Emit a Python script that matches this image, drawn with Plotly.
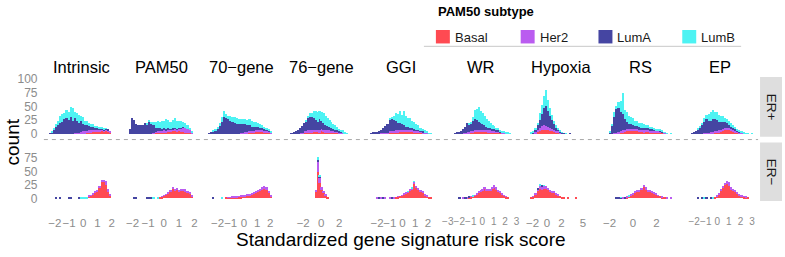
import numpy as np
import plotly.graph_objects as go

# ---------------- data ----------------
SIGNATURES = ["Intrinsic", "PAM50", "70\u2212gene", "76\u2212gene", "GGI", "WR", "Hypoxia", "RS", "EP"]
SUBTYPES = ["Basal", "Her2", "LumA", "LumB"]
COLORS = ["#FF4A52", "#BA5CF0", "#4545A2", "#4DF3F3"]
ROWS = ["ER+", "ER\u2212"]
LEGEND_TITLE = "PAM50 subtype"
NBINS = 30

# histogram bin range (standardized score) per signature
BIN_LO = [-2.42, -2.26, -2.68, -3.44, -2.55, -2.39, -2.36, -2.00, -2.25]
BIN_HI = [1.93, 1.87, 2.15, 3.00, 2.31, 2.66, 6.14, 3.36, 3.09]
# axis ranges and tick labels per signature
AXIS_LO = [-2.77, -2.58, -3.06, -4.22, -3.10, -3.43, -3.39, -2.60, -3.03]
AXIS_HI = [2.56, 2.32, 2.68, 4.22, 2.86, 3.18, 7.16, 3.87, 3.52]
XTICKS = [[-2, -1, 0, 1, 2], [-2, -1, 0, 1, 2], [-2, -1, 0, 1, 2], [-2, 0, 2],
          [-2, -1, 0, 1, 2], [-3, -2, -1, 0, 1, 2, 3], [-2, 0, 2, 5], [-2, 0, 2],
          [-2, -1, 0, 1, 2, 3]]
YTICKS_POS = [0, 25, 50, 75, 100]
YTICKS_NEG = [0, 25, 50, 75]

# counts per bin (ER+)
INTRINSIC_POS = dict(
    Basal=[0]*15 + [1, 1, 1, 2, 2, 3, 3, 4, 4, 4, 5, 4, 5, 4, 3],
    Her2=[0]*12 + [1, 1, 2, 2, 3, 3, 3, 4, 3, 4, 3, 3, 3, 3, 2, 3, 2, 1],
    LumA=[1, 3, 8, 12, 16, 20, 22, 26, 28, 25, 30, 24, 27, 22, 18, 20, 14, 12, 10, 8, 7, 6, 4, 4, 3, 2, 2, 1, 1, 0],
    LumB=[0, 1, 3, 5, 8, 12, 14, 12, 15, 14, 18, 22, 12, 15, 14, 10, 12, 8, 8, 6, 4, 4, 3, 3, 2, 2, 1, 1, 0, 0])
PAM50_POS = dict(
    Basal=[0]*11 + [1, 2, 2, 3, 3, 3, 3, 4, 3, 4, 4, 3, 4, 3, 3, 2, 2, 1, 1],
    Her2=[0]*11 + [1, 1, 2, 2, 2, 3, 3, 3, 4, 4, 5, 5, 6, 7, 8, 8, 7, 5, 2],
    LumA=[8, 28, 25, 18, 16, 15, 16, 20, 17, 22, 18, 14, 8, 6, 5, 4, 4, 3, 3, 2, 2, 2, 1, 1, 1, 1, 0, 0, 0, 0],
    LumB=[0, 0, 0, 0, 0, 0, 0, 0, 1, 2, 3, 5, 10, 13, 12, 15, 13, 17, 15, 13, 15, 17, 14, 12, 13, 10, 9, 7, 4, 1])
G70_POS = dict(
    Basal=[0]*16 + [1, 1, 1, 2, 2, 2, 3, 3, 3, 3, 3, 2, 2, 1],
    Her2=[0]*15 + [1, 1, 2, 2, 3, 3, 3, 4, 4, 4, 4, 3, 3, 2, 1],
    LumA=[1, 2, 4, 6, 10, 14, 22, 30, 28, 26, 24, 22, 20, 18, 17, 16, 15, 14, 12, 10, 8, 7, 6, 5, 4, 3, 2, 2, 1, 1],
    LumB=[0, 0, 1, 2, 3, 5, 8, 12, 8, 6, 8, 8, 10, 10, 9, 10, 10, 9, 10, 11, 10, 9, 8, 7, 6, 5, 4, 3, 2, 1])
G76_POS = dict(
    Basal=[0, 0, 0, 0, 0, 1, 1, 2, 2, 3, 3, 3, 4, 3, 3, 3, 4, 3, 3, 3, 3, 2, 2, 2, 2, 1, 1, 1, 0, 0],
    Her2=[0, 0, 0, 0, 0, 1, 1, 2, 2, 3, 3, 3, 3, 4, 4, 3, 4, 4, 3, 3, 3, 3, 2, 2, 2, 1, 1, 1, 0, 0],
    LumA=[1, 1, 2, 4, 6, 9, 12, 15, 18, 22, 25, 24, 22, 18, 15, 20, 16, 12, 10, 8, 6, 5, 4, 3, 2, 2, 1, 1, 1, 0],
    LumB=[0, 0, 0, 0, 0, 0, 0, 0, 2, 4, 6, 8, 12, 16, 18, 16, 16, 18, 16, 15, 13, 12, 10, 8, 6, 5, 4, 3, 2, 1])
GGI_POS = dict(
    Basal=[0, 0, 0, 0, 0, 0, 1, 1, 1, 2, 2, 2, 3, 3, 3, 3, 3, 3, 3, 3, 3, 3, 2, 2, 2, 1, 1, 1, 0, 0],
    Her2=[0, 0, 0, 0, 0, 1, 1, 1, 1, 2, 2, 3, 3, 3, 4, 4, 4, 4, 4, 4, 4, 3, 3, 3, 2, 2, 1, 1, 0, 0],
    LumA=[1, 2, 2, 3, 4, 6, 8, 12, 16, 22, 24, 20, 18, 14, 12, 10, 8, 6, 5, 4, 3, 3, 2, 2, 1, 1, 1, 0, 0, 0],
    LumB=[0, 0, 0, 0, 0, 0, 0, 0, 0, 1, 2, 8, 14, 16, 22, 18, 26, 20, 16, 18, 14, 12, 10, 8, 6, 5, 3, 2, 1, 1])
WR_POS = dict(
    Basal=[0, 0, 0, 0, 0, 1, 1, 1, 2, 2, 3, 3, 3, 3, 3, 3, 3, 3, 3, 2, 2, 2, 2, 2, 1, 1, 1, 1, 0, 0],
    Her2=[0, 0, 0, 0, 1, 1, 2, 2, 3, 3, 4, 4, 4, 4, 4, 4, 4, 3, 3, 3, 3, 2, 2, 1, 1, 1, 0, 0, 0, 0],
    LumA=[1, 2, 3, 5, 8, 10, 16, 14, 12, 18, 20, 18, 15, 12, 10, 8, 6, 5, 4, 3, 3, 2, 2, 1, 1, 1, 0, 0, 0, 0],
    LumB=[0, 0, 0, 0, 0, 0, 0, 2, 4, 8, 16, 20, 26, 22, 20, 18, 14, 12, 9, 8, 6, 5, 4, 3, 2, 2, 1, 1, 1, 0])
HYPOXIA_POS = dict(
    Basal=[0, 0, 1, 3, 5, 6, 7, 6, 6, 5, 4, 3, 2, 2, 1],
    Her2=[0, 1, 2, 4, 6, 8, 9, 8, 7, 6, 5, 4, 3, 2, 1, 1],
    LumA=[1, 2, 4, 8, 14, 22, 30, 36, 28, 22, 16, 10, 6, 4, 2, 1, 1, 0, 0, 1],
    LumB=[1, 1, 2, 5, 12, 16, 22, 30, 20, 14, 10, 6, 4, 2, 1, 1, 0, 1])
RS_POS = dict(
    Basal=[0, 0, 0, 0, 1, 2, 3, 4, 5, 5, 5, 5, 4, 4, 4, 4, 3, 4, 4, 3, 3, 3, 3, 3, 2, 2, 1, 0, 0, 0],
    Her2=[0, 0, 1, 1, 2, 2, 3, 3, 3, 3, 3, 3, 4, 4, 3, 3, 3, 3, 3, 3, 3, 3, 2, 2, 2, 1, 1, 0, 0, 0],
    LumA=[3, 14, 30, 44, 44, 36, 30, 20, 14, 10, 10, 8, 6, 6, 5, 4, 4, 3, 3, 2, 2, 2, 1, 1, 1, 1, 0, 0, 0, 0],
    LumB=[1, 4, 8, 6, 10, 20, 38, 16, 18, 14, 12, 12, 10, 10, 8, 8, 7, 6, 5, 5, 4, 3, 3, 2, 2, 1, 1, 1, 0, 1])
EP_POS = dict(
    Basal=[0, 0, 0, 0, 0, 0, 0, 1, 1, 1, 1, 2, 2, 3, 4, 6, 8, 7, 6, 5, 4, 3, 2, 1, 1, 0, 0, 0, 0, 0],
    Her2=[0, 0, 0, 0, 0, 0, 1, 1, 1, 2, 2, 2, 3, 3, 3, 3, 3, 4, 4, 4, 3, 3, 2, 2, 1, 1, 0, 0, 0, 0],
    LumA=[1, 2, 4, 8, 12, 16, 20, 24, 22, 20, 24, 22, 20, 16, 14, 12, 10, 8, 6, 4, 3, 2, 2, 1, 1, 0, 0, 0, 0, 0],
    LumB=[0, 0, 0, 1, 2, 4, 8, 8, 12, 16, 16, 14, 14, 13, 12, 11, 8, 8, 7, 6, 5, 4, 3, 2, 2, 1, 1, 1, 0, 1])

# counts per bin (ER-)
INTRINSIC_NEG = dict(
    Basal=[0]*19 + [4, 5, 8, 10, 12, 20, 30, 30, 25, 12, 5],
    Her2=[0]*19 + [1, 1, 2, 2, 3, 3, 4, 4, 6, 5, 2],
    LumA=[0, 0, 0, 1, 0, 1, 0, 0, 0, 2, 3, 0, 0, 0, 1],
    LumB=[0]*15 + [1, 2, 1, 1])
PAM50_NEG = dict(
    Basal=[0]*14 + [2, 3, 5, 7, 9, 12, 18, 15, 17, 12, 14, 13, 12, 10, 8, 4],
    Her2=[0]*14 + [0, 1, 1, 1, 2, 2, 3, 3, 2, 3, 3, 4, 5, 4, 4, 3],
    LumA=[0, 0, 1, 2, 0, 0, 0, 0, 1, 1, 2],
    LumB=[0]*11 + [1, 0, 1])
G70_NEG = dict(
    Basal=[0]*8 + [1, 1, 1, 2, 2, 2, 3, 3, 4, 4, 5, 6, 7, 9, 10, 12, 14, 16, 18, 15, 10, 4],
    Her2=[0]*8 + [0, 1, 1, 1, 1, 1, 1, 2, 2, 2, 2, 2, 3, 3, 3, 4, 4, 5, 5, 5, 4, 2],
    LumA=[0, 0, 1],
    LumB=[0]*6 + [1])
G76_NEG = dict(
    Basal=[0]*13 + [12, 48, 28, 16, 10, 6, 3],
    Her2=[0]*13 + [3, 18, 10, 4, 2, 1],
    LumA=[0]*14 + [5, 2],
    LumB=[0]*14 + [4, 1])
GGI_NEG = dict(
    Basal=[0]*12 + [2, 3, 4, 5, 8, 9, 10, 14, 16, 26, 20, 16, 12, 10, 6, 4, 3, 1],
    Her2=[0, 0, 0, 1, 0, 1, 0, 1, 0, 1, 0, 1, 0, 1, 0, 1, 2, 2, 2, 3, 3, 4, 3, 3, 3, 2, 2, 1, 0, 0],
    LumA=[0, 0, 0, 0, 1, 0, 1, 0, 0, 0, 1],
    LumB=[0]*18 + [1, 0, 1, 1])
WR_NEG = dict(
    Basal=[0]*7 + [2, 3, 4, 5, 8, 10, 12, 14, 17, 14, 13, 15, 17, 19, 16, 13, 10, 8, 5, 3, 2],
    Her2=[0, 0, 0, 0, 1, 0, 1, 0, 1, 0, 1, 2, 2, 3, 3, 4, 3, 4, 3, 4, 5, 4, 3, 3, 2, 1, 1, 0, 0, 0],
    LumA=[0, 0, 1, 0, 0, 2, 0, 1],
    LumB=[0]*9 + [1])
HYPOXIA_NEG = dict(
    Basal=[1, 3, 8, 14, 18, 16, 18, 17, 15, 13, 11, 10, 8, 6, 4, 2, 1, 0, 1, 0, 0, 0, 1],
    Her2=[0, 1, 2, 3, 5, 6, 5, 5, 4, 3, 2, 2, 1, 1],
    LumA=[0, 0, 0, 1, 0, 1],
    LumB=[0, 0, 0, 0, 2, 0, 1])
RS_NEG = dict(
    Basal=[0]*8 + [2, 4, 6, 8, 10, 12, 13, 15, 20, 16, 13, 12, 10, 9, 7, 5, 4, 2, 1],
    Her2=[0, 0, 0, 0, 0, 0, 1, 0, 1, 0, 1, 2, 2, 3, 3, 4, 5, 4, 3, 3, 2, 2, 2, 1, 0, 1, 0, 1, 0, 1],
    LumA=[0, 0, 0, 2, 3, 1, 0, 1],
    LumB=[0, 0, 0, 0, 0, 1, 0, 0, 0, 1])
EP_NEG = dict(
    Basal=[0]*11 + [2, 4, 8, 14, 20, 24, 26, 22, 16, 14, 12, 9, 6, 4, 3, 2, 1],
    Her2=[0]*12 + [1, 2, 2, 3, 4, 5, 8, 4, 3, 3, 2, 2, 2, 1, 1],
    LumA=[0, 0, 0, 1, 0, 1, 0, 2, 0, 1],
    LumB=[0, 0, 0, 0, 0, 0, 1, 0, 0, 0, 1])

COUNTS_POS = [INTRINSIC_POS, PAM50_POS, G70_POS, G76_POS, GGI_POS, WR_POS, HYPOXIA_POS, RS_POS, EP_POS]
COUNTS_NEG = [INTRINSIC_NEG, PAM50_NEG, G70_NEG, G76_NEG, GGI_NEG, WR_NEG, HYPOXIA_NEG, RS_NEG, EP_NEG]

# ---------------- layout geometry (pixels) ----------------
W, H = 785, 257
LEFT, PANEL_W, GAP = 43, 76, 4
ROW_PX = [(75, 137), (143, 204)]
Y_RANGES = [[-5.3, 103.5], [-4.0, 103.0]]
FONT = "Liberation Sans, Arial, Helvetica, sans-serif"
TICK_COLOR = "#8C8C8C"
XTICK_SIZE = [11.5, 11.5, 11.5, 11.5, 11.5, 10, 11.5, 11.5, 10]
LEGEND_SWATCH_X = [436, 521, 599, 683]


def px_x(p):
    return p / W


def px_y(p):
    return 1 - p / H


fig = go.Figure()
layout_axes = {}
for r, counts in enumerate([COUNTS_POS, COUNTS_NEG]):
    for c, sig in enumerate(SIGNATURES):
        k = r * len(SIGNATURES) + c + 1
        xa = "x" if k == 1 else f"x{k}"
        ya = "y" if k == 1 else f"y{k}"
        w = (BIN_HI[c] - BIN_LO[c]) / NBINS
        for s_i, st in enumerate(SUBTYPES):
            vals = counts[c][st]
            xs = BIN_LO[c] + (np.arange(len(vals)) + 0.5) * w
            fig.add_trace(go.Bar(
                x=xs, y=vals, width=w, name=st, legendgroup=st,
                showlegend=False,
                marker=dict(color=COLORS[s_i], line=dict(width=0)),
                xaxis=xa, yaxis=ya))
        x0 = LEFT + c * (PANEL_W + GAP)
        y0, y1 = ROW_PX[r]
        layout_axes["xaxis" if k == 1 else f"xaxis{k}"] = dict(
            domain=[px_x(x0), px_x(x0 + PANEL_W)], anchor=ya,
            range=[AXIS_LO[c], AXIS_HI[c]], tickvals=XTICKS[c], tickangle=0,
            showticklabels=(r == 1), showgrid=False, zeroline=False, showline=False,
            ticks="outside" if r == 1 else "", ticklen=11, tickcolor="rgba(0,0,0,0)",
            tickfont=dict(size=XTICK_SIZE[c], color=TICK_COLOR, family=FONT), fixedrange=True)
        layout_axes["yaxis" if k == 1 else f"yaxis{k}"] = dict(
            domain=[px_y(y1), px_y(y0)], anchor=xa, range=Y_RANGES[r],
            tickvals=YTICKS_POS if r == 0 else YTICKS_NEG,
            showticklabels=(c == 0), showgrid=False, zeroline=False, showline=False,
            ticks="outside", ticklen=3, tickcolor="rgba(0,0,0,0)",
            tickfont=dict(size=12, color=TICK_COLOR, family=FONT), fixedrange=True)

annotations = []
shapes = []
# column titles
for c, sig in enumerate(SIGNATURES):
    x0 = LEFT + c * (PANEL_W + GAP)
    annotations.append(dict(text=sig, x=px_x(x0 + PANEL_W / 2), y=px_y(64), xref="paper", yref="paper",
                            showarrow=False, xanchor="center", yanchor="middle",
                            font=dict(size=16.5, color="#000000", family=FONT)))
# row strips
for r, lab in enumerate(ROWS):
    y0, y1 = ROW_PX[r]
    shapes.append(dict(type="rect", xref="paper", yref="paper", x0=px_x(761), x1=px_x(783),
                       y0=px_y(y1), y1=px_y(y0), fillcolor="#DEDEDE", line=dict(width=0), layer="below"))
    annotations.append(dict(text=lab, x=px_x(772), y=px_y((y0 + y1) / 2), xref="paper", yref="paper",
                            showarrow=False, textangle=90, xanchor="center", yanchor="middle",
                            font=dict(size=13.5, color="#1A1A1A", family=FONT)))
# dashed separator between rows
shapes.append(dict(type="line", xref="paper", yref="paper", x0=px_x(43), x1=px_x(759),
                   y0=px_y(140), y1=px_y(140), line=dict(color="#A8A8A8", width=1, dash="4px,4px")))
# legend (title, swatches, labels, underline)
annotations.append(dict(text="<b>" + LEGEND_TITLE + "</b>", x=px_x(436), y=px_y(6.5), xref="paper", yref="paper",
                        showarrow=False, xanchor="left", yanchor="middle",
                        font=dict(size=13, color="#000000", family=FONT)))
for s_i, st in enumerate(SUBTYPES):
    sx = LEGEND_SWATCH_X[s_i]
    shapes.append(dict(type="rect", xref="paper", yref="paper", x0=px_x(sx), x1=px_x(sx + 14),
                       y0=px_y(40), y1=px_y(26), fillcolor=COLORS[s_i], line=dict(width=0)))
    annotations.append(dict(text=st, x=px_x(sx + 17), y=px_y(33.5), xref="paper", yref="paper",
                            showarrow=False, xanchor="left", yanchor="middle",
                            font=dict(size=13, color="#1A1A1A", family=FONT)))
shapes.append(dict(type="line", xref="paper", yref="paper", x0=px_x(424), x1=px_x(742),
                   y0=px_y(43), y1=px_y(43), line=dict(color="#C8C8C8", width=1)))
# axis titles
annotations.append(dict(text="count", x=px_x(12), y=px_y(142), xref="paper", yref="paper",
                        showarrow=False, textangle=-90, xanchor="center", yanchor="middle",
                        font=dict(size=19, color="#000000", family=FONT)))
annotations.append(dict(text="Standardized gene signature risk score", x=px_x(401), y=px_y(244),
                        xref="paper", yref="paper", showarrow=False, xanchor="center", yanchor="middle",
                        font=dict(size=19, color="#000000", family=FONT)))

fig.update_layout(
    width=W, height=H, autosize=False,
    margin=dict(l=0, r=0, t=0, b=0),
    paper_bgcolor="white", plot_bgcolor="white",
    barmode="stack", bargap=0,
    font=dict(family=FONT, color="#1A1A1A"),
    showlegend=False,
    annotations=annotations, shapes=shapes,
    **layout_axes)

fig.write_html("out.html", config={"displayModeBar": False},
               post_script="document.body.style.margin='0';document.body.style.overflow='hidden';")
